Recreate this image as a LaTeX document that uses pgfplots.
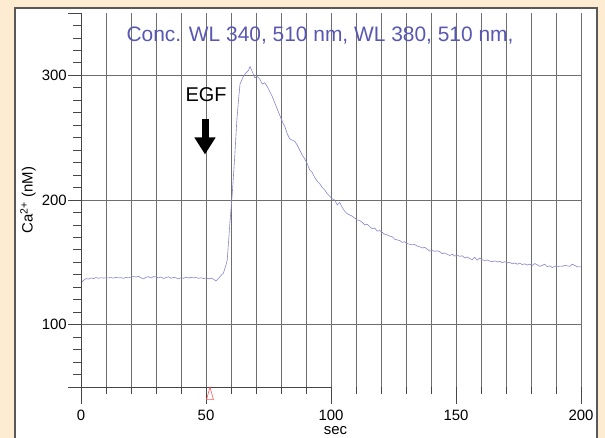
\documentclass[border=0pt]{standalone}
\usepackage{pgfplots}
\pgfplotsset{compat=1.18}
\usepackage{fontspec}
\setmainfont{Liberation Sans}
\usetikzlibrary{arrows.meta}
\definecolor{bgbeige}{RGB}{253,236,210}
\definecolor{curvecol}{RGB}{135,135,205}
\definecolor{titleblue}{RGB}{88,88,178}
\definecolor{gridgray}{RGB}{110,110,110}
\definecolor{axisgray}{RGB}{70,70,70}
\begin{document}
\begin{tikzpicture}[x=1bp,y=1bp]
\useasboundingbox (0,0) rectangle (605,438);
\fill[bgbeige] (0,0) rectangle (605,438);
\fill[white] (15,0) rectangle (597,430);
\draw[black!65, line width=1.2bp] (15,0) -- (15,430) -- (597,430) -- (597,0);
% main axis: data, grid, x ticks
\begin{axis}[
  at={(81bp,51bp)}, anchor=south west,
  scale only axis, width=500bp, height=374bp,
  xmin=0, xmax=200, ymin=50, ymax=350,
  clip=false,
  axis x line=bottom, axis y line=left,
  x axis line style={draw=none},
  y axis line style={draw=none},
  tick align=outside,
  xtick={0,50,...,200}, minor xtick={0,10,...,200},
  ytick={100,200,300}, yticklabels={},
  ytick style={draw=none},
  xtick style={axisgray, line width=0.8bp},
  major tick length=17bp, minor tick length=7bp,
  xmajorgrids, xminorgrids, ymajorgrids,
  major grid style={gridgray, line width=0.8bp},
  minor grid style={gridgray, line width=0.8bp},
  /pgf/number format/assume math mode=true,
  xticklabel style={font=\fontsize{15}{18}\selectfont, yshift=-3bp},
  xlabel={sec},
  xlabel style={font=\fontsize{15}{18}\selectfont, at={(axis description cs:0.509,-0.127)}, anchor=base, inner sep=0pt},
]
\draw[axisgray, line width=0.8bp] (axis cs:0,50) -- (axis cs:100,50);
\addplot[curvecol, line width=0.6bp, mark=none] coordinates {
(0,133.5)(1,135.5)(2,137)(3,136.5)(4,137.5)(5,137)(6,137.8)(7,137.2)(8,137.6)(9,137.4)
(10,137.6)(11,137.5)(12,137.8)(13,137.3)(14,138)(15,137.5)(16,137.7)(17,137.2)(18,137.9)(19,137.5)
(20,138.3)(21,138.6)(22,138.2)(23,138.8)(24,137.6)(25,136.8)(26,138)(27,138.5)(28,137.4)(29,138.6)
(30,138.2)(31,137.5)(32,138.3)(33,137)(34,137.8)(35,138.4)(36,137.2)(37,138)(38,137.6)(39,136.8)
(40,137.7)(41,137.2)(42,138.1)(43,137.4)(44,138)(45,137.5)(46,137.8)(47,137.2)(48,137.6)(49,137)
(50,137.4)(51,136.8)(52,137.3)(53,136.5)(54,135)(55,137)(56,139.5)(57,141.5)(58,148)(58.5,152)
(59.5,180)(60.5,205)(61.5,235)(62.3,263)(63,280)(63.6,293)(64.9,299)(66,302)(67,304)(67.6,307)
(68.5,303)(69.5,298)(70.5,299)(71.5,297)(72.5,293)(73.5,294)(74.5,291)(75.5,287)(76.5,283)(77.5,278)
(78.5,273)(79.5,268)(80.5,263)(81.5,259)(82.5,253)(83.5,249)(84.5,248)(85.5,247)(86.5,244)(87.5,240)
(88.5,236)(89.5,233)(90.5,229)(91.5,224)(92.5,222)(93.5,218)(94.5,215)(95.5,213)(96.5,210)(97.5,208)
(98.5,205)(99.5,203)(100.5,201)(101.5,200)(102.5,196)(103.5,198)(104.5,194)(105.5,191)(106.5,189)(107.5,188)
(108.5,187)(109.5,185.5)(110.5,184)(111.5,183.5)(112.5,182)(113.5,180)(114.5,180.5)(115.5,178.5)(116.5,177)(117.5,177.5)
(118.5,175)(119.5,175.5)(120.5,174)(121.5,172.5)(122.5,172)(123.5,171)(124.5,170.5)(125.5,168.5)(126.5,168)(127.5,167.5)
(128.5,166)(129.5,166.5)(130.5,165)(131.5,164.5)(132.5,164)(133.5,164.3)(134.5,163)(135.5,162.5)(136.5,161.5)(137.5,162)
(138.5,160.5)(139.5,159)(140.5,159.5)(141.5,158.8)(142.5,159.2)(143.5,158.5)(144.5,157)(145.5,157.5)(146.5,156.5)(147.5,155.5)
(148.5,156.5)(149.5,155)(150.5,155.8)(151.5,154.8)(152.5,155.3)(153.5,153.5)(154.5,154.3)(155.5,153)(156.5,152.2)(157.5,154)
(158.5,151.8)(159.5,153.5)(160.5,152)(161.5,151.5)(162.5,151.8)(163.5,151)(164.5,150.5)(165.5,151.2)(166.5,150.3)(167.5,150.8)
(168.5,149.8)(169.5,150.5)(170.5,149.6)(171.5,150)(172.5,148.8)(173.5,149.5)(174.5,148.5)(175.5,149.3)(176.5,148.2)(177.5,148.8)
(178.5,147.8)(179.5,148.5)(180.5,147.5)(181.5,149)(182.5,148)(183.5,146.8)(184.5,147.5)(185.5,148.5)(186.5,146.5)(187.5,147.2)
(188.5,145.8)(189.5,147)(190.5,146.5)(191.5,147)(192.5,146.8)(193.5,147.5)(194.5,147.2)(195.5,146.8)(196.5,148.5)(197.5,147.5)
(198.5,146.5)(199.5,146.3)(200,146.5)
};
\addplot[only marks, mark=triangle, mark size=4bp, mark options={draw=red!65, fill=none, yscale=2.1, line width=0.6bp}] coordinates {(51.6,43.2)};
\draw[black, line width=7bp, -{Triangle[width=20bp,length=17bp]}] (axis cs:49.6,264.7) -- (axis cs:49.6,236.5);
\node[font=\fontsize{20}{24}\selectfont, anchor=center] at (axis cs:50,284.3) {EGF};
\node[font=\fontsize{21}{25}\selectfont, text=titleblue, anchor=base] at (axis cs:95.6,327.3) {Conc. WL 340, 510 nm, WL 380, 510 nm,};
\end{axis}
% second axis: y axis line, y ticks and labels
\begin{axis}[
  at={(81bp,51bp)}, anchor=south west,
  scale only axis, width=500bp, height=374bp,
  xmin=0, xmax=200, ymin=50, ymax=350,
  axis x line=none, axis y line=left,
  axis line style={-, axisgray, line width=0.8bp},
  tick align=outside,
  ytick={50,100,200,300,350}, yticklabels={,100,200,300,},
  minor ytick={60,70,...,340},
  ytick style={axisgray, line width=0.8bp},
  major tick length=13bp, minor tick length=8bp,
  /pgf/number format/assume math mode=true,
  yticklabel style={font=\fontsize{15}{18}\selectfont, inner sep=1bp},
  ylabel={Ca\textsuperscript{2+} (nM)},
  ylabel style={font=\fontsize{15}{18}\selectfont, at={(axis description cs:-0.106,0.5)}, anchor=center},
]
\end{axis}
\end{tikzpicture}
\end{document}
